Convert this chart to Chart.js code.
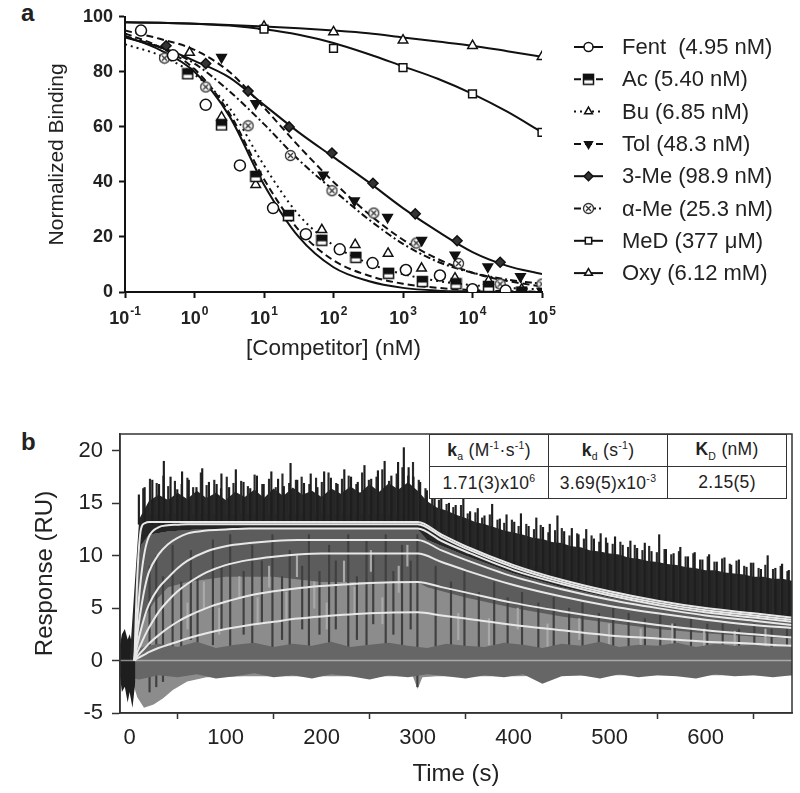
<!DOCTYPE html>
<html>
<head>
<meta charset="utf-8">
<script src="https://cdn.jsdelivr.net/npm/chart.js@4.4.0/dist/chart.umd.min.js"></script>
<style>
  body { margin: 0; background: #fff; width: 800px; height: 793px; position: relative; overflow: hidden;
         font-family: "Liberation Sans", Arial, sans-serif; color: #222; }
  #wrapA { position: absolute; left: 0; top: 0; width: 800px; height: 380px; }
  #wrapB { position: absolute; left: 0; top: 380px; width: 800px; height: 413px; }
  .panel { position: absolute; font-weight: bold; font-size: 24px; line-height: 24px; }
  #kin { position: absolute; left: 429px; top: 434px; border-collapse: collapse; background: #fff; z-index: 2; }
  #kin td { border: 1.5px solid #333; width: 118px; height: 31px; padding: 0; text-align: center;
            font-size: 17.5px; color: #222; letter-spacing: 0.3px; white-space: nowrap; }
  #kin sub, #kin sup { font-size: 10.5px; }
</style>
</head>
<body>
<div class="panel" style="left:21px;top:1px">a</div>
<div class="panel" style="left:21px;top:430px">b</div>
<div id="wrapA"><canvas id="chartA" width="800" height="380"></canvas></div>
<div id="wrapB"><canvas id="chartB" width="800" height="413"></canvas></div>
<table id="kin">
  <tr><td><b>k</b><sub>a</sub> (M<sup>-1</sup>·s<sup>-1</sup>)</td><td><b>k</b><sub>d</sub> (s<sup>-1</sup>)</td><td><b>K</b><sub>D</sub> (nM)</td></tr>
  <tr><td>1.71(3)x10<sup>6</sup></td><td>3.69(5)x10<sup>-3</sup></td><td>2.15(5)</td></tr>
</table>
<script>
const FONT = '"Liberation Sans", Arial, sans-serif';
Chart.defaults.font.family = FONT;
Chart.defaults.color = '#222';

// ---------- panel a : competition binding ----------
const legendLabels = ['Fent  (4.95 nM)', 'Ac (5.40 nM)', 'Bu (6.85 nM)', 'Tol (48.3 nM)',
                      '3-Me (98.9 nM)', 'α-Me (25.3 nM)', 'MeD (377 μM)', 'Oxy (6.12 mM)'];
const aXTicks = [0.1, 1, 10, 100, 1000, 10000, 100000];
const aXExp = ['-1', '0', '1', '2', '3', '4', '5'];
const aYTicks = [0, 20, 40, 60, 80, 100];

// fitted curves, read every half decade from 10^-1 to 10^5
const curveExp = [-1, -0.5, 0, 0.5, 1, 1.5, 2, 2.5, 3, 3.5, 4, 4.5, 5];
const fentCurve = [93, 88, 80, 64, 39, 20, 9, 4, 1.5, 0.5, 0.2, 0, 0];
const acCurve   = [94, 89, 81, 65, 41, 22.5, 11.5, 6, 3, 1.5, 0.7, 0.3, 0.1];
const buCurve   = [90, 86, 79, 67, 46, 28, 17, 10.5, 6.5, 4, 2.5, 1.5, 1];
const tolCurve  = [95, 92, 88, 80, 67, 53, 40, 28.5, 19, 12, 7, 4, 2];
const me3Curve  = [92.5, 89, 84, 78, 68, 58, 49, 40, 30.5, 22, 14.5, 9.5, 6.5];
const aMeCurve  = [93, 89, 83, 73, 61, 48, 37, 26.5, 17.5, 11, 7, 4.5, 3];
const meDCurve  = [98, 97.8, 97.5, 96.8, 95.5, 93.5, 90.5, 86.5, 82, 77.5, 72, 65.5, 58];
const oxyCurve  = [98, 97.8, 97.5, 97, 96.5, 95.8, 95, 94, 92.5, 91, 89.5, 87.5, 85.5];

// measured points
const fentX = [0.17, 0.49, 1.45, 4.5, 13.5, 40, 123, 365, 1100, 3400, 10000, 30000];
const fentY = [95, 86, 68, 46, 30.5, 21, 15.5, 10.5, 8, 6, 1, 0.5];
const acX = [0.8, 2.45, 7.6, 22.5, 68, 210, 620, 1900, 5800, 17000, 51000];
const acY = [79.3, 60.7, 42, 27.8, 18.8, 12.6, 6.8, 3.8, 3, 2, 0];
const buX = [0.85, 2.45, 7.6, 22.5, 68, 205, 610, 1850, 5600, 17000, 51000];
const buY = [87, 63.5, 39, 27, 22.6, 17.2, 14, 8.6, 5, 4, 1];
const tolX = [2.45, 7.6, 71, 200, 600, 1860, 5600, 16600, 49000, 100000];
const tolY = [85.3, 68.5, 42.5, 33.2, 27.2, 18.8, 13.4, 9.2, 5.6, 0.3];
const me3X = [0.39, 1.45, 5.9, 23, 95, 370, 1500, 6000, 25000];
const me3Y = [89.5, 83, 73, 60, 50.5, 39.5, 28.4, 18.6, 10.8];
const aMeX = [0.37, 1.45, 5.9, 24, 95, 380, 1550, 6300, 25000, 100000];
const aMeY = [85, 74.5, 60.4, 49.6, 36.8, 28.7, 17.8, 10.4, 2.9, 2.9];
const meDX = [10, 100, 1000, 10000, 100000];
const meDY = [95.5, 88.5, 81.5, 72, 58];
const oxyX = [10, 100, 1000, 10000, 100000];
const oxyY = [96.5, 94.5, 91.5, 89.5, 85.5];

// ---------- panel b : SPR sensorgrams ----------
const bXTicks = [0, 100, 200, 300, 400, 500, 600];
const bYTicks = [-5, 0, 5, 10, 15, 20];

// fitted 1:1 curves (white)
const fitT = [5, 8, 12, 16, 20, 30, 40, 50, 60, 80, 100, 125, 150, 175, 200, 250, 300, 325, 350, 400, 450, 500, 550, 600, 650, 690];
const fit1 = [0, 8, 12.6, 13.1, 13.2, 13.2, 13.2, 13.2, 13.2, 13.2, 13.2, 13.2, 13.2, 13.2, 13.2, 13.2, 13.2, 12.0, 10.9, 9.1, 7.7, 6.6, 5.7, 5.0, 4.5, 4.1];
const fit2 = [0, 4, 8, 10.5, 11.8, 12.7, 12.9, 12.95, 13, 13, 13, 13, 13, 13, 13, 13, 13, 11.8, 10.7, 8.9, 7.5, 6.4, 5.5, 4.8, 4.3, 3.9];
const fit3 = [0, 2.5, 5, 7, 8.4, 10.1, 11.1, 11.7, 12.1, 12.4, 12.5, 12.6, 12.6, 12.6, 12.6, 12.6, 12.6, 11.4, 10.4, 8.6, 7.3, 6.2, 5.3, 4.6, 4.1, 3.7];
const fit4 = [0, 1.5, 3, 4.3, 5.3, 6.9, 7.9, 8.8, 9.5, 10.4, 10.9, 11.2, 11.4, 11.5, 11.5, 11.5, 11.5, 10.5, 9.6, 8.0, 6.8, 5.8, 5.0, 4.3, 3.8, 3.4];
const fit5 = [0, 0.8, 1.6, 2.4, 3.1, 4.6, 5.7, 6.6, 7.3, 8.4, 9.1, 9.6, 9.9, 10.1, 10.2, 10.2, 10.2, 9.4, 8.6, 7.2, 6.1, 5.2, 4.5, 3.9, 3.4, 3.1];
const fit6 = [0, 0.4, 0.8, 1.2, 1.6, 2.4, 3.1, 3.7, 4.2, 5.0, 5.6, 6.2, 6.6, 6.9, 7.1, 7.4, 7.5, 7.0, 6.5, 5.5, 4.7, 4.0, 3.4, 2.9, 2.5, 2.2];
const fit7 = [0, 0.2, 0.4, 0.6, 0.8, 1.2, 1.5, 1.8, 2.1, 2.6, 3.0, 3.4, 3.7, 4.0, 4.2, 4.5, 4.6, 4.3, 4.0, 3.4, 2.9, 2.4, 2.1, 1.8, 1.6, 1.4];

// upper edge of the dense black noise, every 10 s from 0 to 690 s
const darkTop = [0, 13.5, 15.2, 15.8, 15.3, 16, 15.4, 16.2, 15.5, 16, 15.3, 16.1, 15.6, 16.3, 15.5, 16.4, 15.7, 16.5,
  15.8, 16.2, 15.6, 16.4, 15.9, 16.6, 16, 16.8, 16.1, 16.9, 16.3, 17, 16.2, 15.2, 14.6, 14.3, 13.9, 13.6, 13.2, 13,
  12.7, 12.4, 12.2, 12, 11.7, 11.6, 11.3, 11.2, 10.9, 10.8, 10.5, 10.4, 10.2, 10.1, 9.8, 9.7, 9.5, 9.4, 9.2, 9.1,
  8.9, 8.8, 8.6, 8.6, 8.4, 8.3, 8.2, 8, 8, 7.8, 7.8, 7.6];
// lower edge of the black noise
const darkBotT = [0, 5, 8, 12, 20, 40, 70, 100, 150, 200, 250, 300, 310, 350, 400, 450, 500, 550, 600, 650, 690];
const darkBot  = [0, 0, 8, 11, 12, 12.3, 12.5, 12.5, 12.5, 12.5, 12.5, 12.5, 11.5, 10, 8.3, 7, 6, 5.2, 4.5, 4, 3.6];
// darker grey traces below the black band
const midBotT = [8, 15, 25, 40, 60, 100, 150, 200, 250, 300, 310, 350, 400, 450, 500, 550, 600, 650, 690];
const midBot  = [2, 4, 5.5, 7, 7.5, 8, 8, 7.5, 7.5, 7.5, 7, 6, 5, 4.2, 3.6, 3, 2.6, 2.3, 2.1];
// lowest reach of the grey traces
const grayBotT = [-10, 3, 8, 15, 25, 35, 45, 60, 80, 120, 200, 295, 300, 305, 320, 400, 500, 600, 690];
const grayBot  = [-1.5, -2, -3.5, -4.5, -4.2, -3.6, -2.8, -2, -1.6, -1.5, -1.5, -1.5, -2.7, -1.6, -1.5, -1.5, -1.4, -1.4, -1.4];
// buffer (zero) traces
const baseT = [-10, 10, 30, 50, 70, 90, 110, 130, 150, 170, 190, 210, 230, 250, 270, 290, 310, 330, 350, 370, 390,
  410, 430, 450, 470, 490, 510, 530, 550, 570, 590, 610, 630, 650, 670, 690];
const baseTop = [1.5, 1.2, 1.6, 1.3, 1.8, 1.2, 1.5, 1.7, 1.3, 1.6, 1.4, 1.8, 1.3, 1.5, 1.7, 1.4, 1.2, 1.6, 1.4, 1.3,
  1.7, 1.5, 1.2, 1.6, 1.4, 1.8, 1.3, 1.5, 1.4, 1.7, 1.3, 1.6, 1.4, 1.5, 1.3, 1.4];
const baseBot = [-1.5, -1.8, -1.4, -1.6, -1.3, -1.7, -1.5, -1.2, -1.6, -1.4, -1.7, -1.3, -1.5, -1.8, -1.4, -1.6, -1.3,
  -1.5, -1.7, -1.4, -1.6, -1.3, -2.2, -1.5, -1.4, -1.7, -1.3, -1.6, -1.4, -1.5, -1.7, -1.3, -1.5, -1.4, -1.6, -1.4];
// noise before injection
const preT = [-10, -8, -5, -2, 0, 3, 6];
const preTop = [1.5, 2.5, 3, 2, 2.5, 1.5, 1];
const preBot = [-1.5, -3, -2.5, -4, -3, -4.5, -2];
// tallest noise spikes
const spikeT = [12, 18, 26, 33, 38, 45, 52, 57, 64, 72, 78, 85, 93, 98, 106, 113, 121, 128, 135, 142, 150, 157, 163,
  170, 177, 184, 191, 198, 205, 212, 219, 226, 233, 240, 247, 254, 261, 268, 275, 282, 288, 293, 298, 305, 312, 320,
  327, 335, 342, 350, 357, 365, 372, 380, 388, 395, 403, 410, 418, 426, 433, 440, 448, 455, 463, 470, 478, 486, 493,
  500, 508, 516, 524, 531, 539, 546, 554, 561, 569, 576, 584, 591, 599, 606, 614, 622, 629, 637, 645, 652, 660, 667,
  675, 682, 689];
const spikeHi = [15.8, 16.5, 17.2, 16.8, 19, 17.5, 16.3, 18, 17.2, 16.5, 18.3, 17, 16.8, 17.8, 16.5, 18.2, 17, 16.4,
  17.6, 16.8, 18, 17.3, 16.6, 18.8, 17.2, 16.9, 17.8, 16.5, 18, 17.4, 16.8, 18.2, 17.5, 17, 18.6, 17.3, 18.1, 19,
  17.6, 18.9, 20.3, 18.4, 17.5, 17, 16.2, 15.5, 16, 15, 14.8, 15.6, 14.2, 14.5, 13.8, 14.9, 13.5, 13.9, 13.2, 14,
  12.8, 13.6, 12.7, 13, 13.8, 12.3, 12.6, 12, 12.5, 11.6, 12.1, 11.2, 11.8, 11, 11.4, 10.7, 11.2, 10.4, 12, 10.6,
  10.2, 10.8, 9.9, 10.3, 9.6, 10.1, 9.4, 9.8, 9.1, 9.6, 8.9, 9.3, 8.7, 10, 8.8, 9.2, 8.6];
const spikeLo = [13, 13, 13, 13, 13, 13, 13, 13, 13, 13, 13, 13, 13, 13, 13, 13, 13, 13, 13, 13, 13, 13, 13, 13, 13,
  13, 13, 13, 13, 13, 13, 13, 13, 13, 13, 13, 13, 13, 13, 13, 13, 13, 13, 13, 12, 12, 12, 11, 11, 11, 10, 10, 10, 9.5,
  9.5, 9, 9, 9, 8.5, 8.5, 8, 8, 8, 7.5, 7.5, 7.5, 7, 7, 7, 6.5, 6.5, 6.5, 6, 6, 6, 6, 5.5, 5.5, 5.5, 5.5, 5, 5, 5, 5,
  5, 4.5, 4.5, 4.5, 4.5, 4.5, 4.5, 4, 4, 4, 4];
// smaller spikes between the tall ones
const spike2T = [15, 22, 29, 36, 41, 48, 55, 61, 67, 75, 81, 89, 96, 102, 109, 117, 124, 131, 139, 146, 153, 160, 167,
  174, 180, 188, 195, 201, 208, 216, 222, 229, 237, 243, 250, 258, 264, 271, 279, 285, 291, 296,
  302, 309, 316, 323, 331, 338, 346, 353, 361, 368, 376, 384, 391, 399, 406, 414, 422, 429, 437, 444, 451, 459, 467,
  474, 482, 490, 497, 504, 512, 520, 527, 535, 542, 550, 558, 565, 573, 580, 588, 595, 603, 610, 618, 626, 633, 641,
  648, 656, 663, 671, 679, 686];
const spike2Hi = [16.4, 17.3, 16.9, 17.6, 16.6, 17.1, 16.8, 17.4, 16.5, 17.9, 16.7, 17.2, 16.4, 17.5, 16.9, 17.1, 16.6,
  17.7, 16.8, 17.3, 16.5, 17.8, 16.9, 17.2, 17.5, 16.8, 17.4, 17, 17.9, 16.9, 17.3, 17.6, 16.8, 17.9, 17.2, 17.5,
  18.2, 17.1, 17.8, 18.4, 17.6, 18.9,
  17.2, 16.4, 15.6, 15.3, 14.9, 14.6, 14.8, 14.0, 14.1, 13.6, 13.9, 13.4, 13.1, 13.4, 12.8, 13, 12.5, 12.9, 12.2,
  12.4, 12.6, 11.9, 12.1, 11.6, 11.9, 11.3, 11.7, 11.1, 11.3, 10.8, 11, 10.5, 10.9, 10.3, 10.6, 10.1, 10.4, 9.9,
  10.2, 9.6, 9.9, 9.4, 9.7, 9.2, 9.5, 9, 9.3, 8.8, 9.1, 8.7, 9, 8.5];
const spike2Lo = [14, 14, 14, 14, 14, 14, 14, 14, 14, 14, 14, 14, 14, 14, 14, 14, 14, 14, 14, 14, 14, 14, 14, 14, 14,
  14, 14, 14, 14, 14, 14, 14, 14, 14, 14, 14, 14, 14, 14, 14, 14, 14,
  13, 13, 12.5, 12, 12, 11.5, 11.5, 11, 11, 10.5, 10.5, 10, 10, 9.5, 9.5, 9, 9, 9, 8.5, 8.5, 8, 8, 8, 7.5, 7.5, 7.5,
  7, 7, 7, 6.5, 6.5, 6.5, 6, 6, 6, 6, 5.5, 5.5, 5.5, 5.5, 5, 5, 5, 5, 5, 5, 4.5, 4.5, 4.5, 4.5, 4.5, 4.5];
// dark grey streaks inside the lower traces
const streakT = [20, 27, 34, 44, 53, 63, 70, 86, 95, 104, 118, 127, 137, 148, 158, 166, 179, 186, 197, 207, 214, 227,
  236, 246, 253, 266, 274, 283, 292, 299, 318, 334, 348, 363, 379, 393, 408, 425, 441, 457, 471, 488, 503, 519, 536,
  552, 567, 584, 601, 617, 634, 650, 668, 684];
const streakLo = [-3, -2.5, -2, 0.5, 1, 2, 0, 1.5, 3, 0.5, 2.5, 1, 3.5, 0, 2, 1.5, 3, 0.5, 2.5, 1, 3, 0.5, 2, 1.5,
  3.5, 0, 2.5, 1, 3, -2.5, 0.5, 1.5, 0, 1, 0.5, 0, 1.5, 0.5, 0, 1, 0.5, 0, 1, 0.5, 0, 0.5, 0, 0.5, 0, 0.5, 0, 0.5, 0, 0.5];
const streakHi = [9, 10, 8, 11, 7.5, 10.5, 8, 11.5, 9, 12, 8.5, 11, 9.5, 12, 8, 10.5, 9, 12, 8.5, 11, 9.5, 12, 8,
  11.5, 10, 12, 8.5, 11, 9.5, 12, 9, 7.5, 8.5, 6.5, 7.5, 6, 6.5, 5.5, 6, 5, 5.5, 4.5, 5, 4.5, 4, 4.5, 3.5, 4, 3.5,
  3.5, 3, 3.5, 3, 3];
// light gaps between traces
const lightT = [58, 75, 91, 112, 131, 143, 161, 172, 190, 203, 221, 232, 249, 261, 278, 287, 340, 372, 402, 433, 466,
  497, 530, 563, 596, 628, 660];
const lightLo = [3, 5, 2.5, 6, 3.5, 7, 4, 8, 5, 3, 7.5, 4.5, 8.5, 3.5, 6.5, 9, 2, 1.5, 3, 1, 2, 1.5, 0.8, 1.5, 1, 0.8, 1.2];
const lightHi = [5.5, 7.5, 5, 8, 6, 9, 6.5, 10, 7.5, 5.5, 9.5, 7, 10.5, 6, 9, 11, 4.5, 4, 5, 3.5, 4, 3.5, 3, 3.5, 3, 2.8, 3];
const zeroT = [-10, 690];
const zeroY = [0, 0];

const xy = (xs, ys) => xs.map((v, i) => ({ x: v, y: ys[i] }));
const bars = (ts, lo, hi) => ts.map((t, i) => ({ x: t, y: [lo[i], hi[i]] }));

function makeMarker(draw) {
  const c = document.createElement('canvas');
  c.width = 13; c.height = 13;
  draw(c.getContext('2d'));
  return c;
}
const acMark = makeMarker(g => {
  g.fillStyle = '#fff'; g.fillRect(1.5, 1.5, 10, 10);
  g.fillStyle = '#111'; g.fillRect(1.5, 1.5, 10, 6);
  g.strokeStyle = '#111'; g.lineWidth = 1.5; g.strokeRect(1.5, 1.5, 10, 10);
});
const aMeMark = makeMarker(g => {
  g.beginPath(); g.arc(6.5, 6.5, 5, 0, Math.PI * 2);
  g.fillStyle = '#fff'; g.fill();
  g.strokeStyle = '#333'; g.lineWidth = 1.3; g.stroke();
  g.beginPath(); g.moveTo(4, 4); g.lineTo(9, 9); g.moveTo(9, 4); g.lineTo(4, 9); g.stroke();
});

const curves = [fentCurve, acCurve, buCurve, tolCurve, me3Curve, aMeCurve, meDCurve, oxyCurve];
const ptsX = [fentX, acX, buX, tolX, me3X, aMeX, meDX, oxyX];
const ptsY = [fentY, acY, buY, tolY, me3Y, aMeY, meDY, oxyY];
const dashes = [[], [7, 4], [2, 4], [7, 4], [], [7, 3, 2, 3], [], []];
const marks = [
  { style: 'circle', bg: '#fff', r: 5.5, rot: 0 },
  { style: acMark, bg: '#fff', r: 5.5, rot: 0 },
  { style: 'triangle', bg: '#fff', r: 5.5, rot: 0 },
  { style: 'triangle', bg: '#111', r: 5.5, rot: 180 },
  { style: 'rectRot', bg: '#333', r: 5, rot: 0 },
  { style: aMeMark, bg: '#fff', r: 5.5, rot: 0 },
  { style: 'rect', bg: '#fff', r: 5.5, rot: 0 },
  { style: 'triangle', bg: '#fff', r: 5.5, rot: 0 }
];

const curveX = curveExp.map(e => Math.pow(10, e));
const dsA = [];
curves.forEach((c, i) => {
  dsA.push({ type: 'line', data: xy(curveX, c), borderColor: '#111', borderWidth: 2, borderDash: dashes[i],
             pointRadius: 0, cubicInterpolationMode: 'monotone', fill: false, order: 2 });
});
ptsX.forEach((px, i) => {
  dsA.push({ type: 'scatter', data: xy(px, ptsY[i]), showLine: false, pointStyle: marks[i].style,
             pointRadius: marks[i].r, pointRotation: marks[i].rot, pointBackgroundColor: marks[i].bg,
             pointBorderColor: '#111', pointBorderWidth: 1.5, order: 1 });
});

const panelAPlugin = {
  id: 'panelA',
  afterDraw(chart) {
    const ctx = chart.ctx, xs = chart.scales.x;
    ctx.save();
    ctx.fillStyle = '#222';
    ctx.textBaseline = 'alphabetic';
    ctx.textAlign = 'left';
    aXTicks.forEach((v, i) => {
      const px = xs.getPixelForValue(v);
      ctx.font = 'bold 18px ' + FONT;
      const w1 = ctx.measureText('10').width;
      ctx.font = 'bold 12px ' + FONT;
      const w2 = ctx.measureText(aXExp[i]).width;
      const x0 = px - (w1 + w2 + 1) / 2;
      ctx.font = 'bold 18px ' + FONT;
      ctx.fillText('10', x0, 324);
      ctx.font = 'bold 12px ' + FONT;
      ctx.fillText(aXExp[i], x0 + w1 + 1, 315);
    });
    // legend
    legendLabels.forEach((lab, i) => {
      const y = 47 + i * 32.3;
      ctx.strokeStyle = '#111';
      ctx.lineWidth = 2;
      ctx.setLineDash(dashes[i]);
      ctx.beginPath(); ctx.moveTo(574, y); ctx.lineTo(603, y); ctx.stroke();
      ctx.setLineDash([]);
      ctx.fillStyle = marks[i].bg;
      ctx.lineWidth = 1.5;
      Chart.helpers.drawPoint(ctx, { pointStyle: marks[i].style, radius: 4.5, rotation: marks[i].rot, borderWidth: 1.5 }, 588.5, y);
      ctx.fillStyle = '#222';
      ctx.font = '22px ' + FONT;
      ctx.textBaseline = 'middle';
      ctx.fillText(lab, 622, y + 1);
      ctx.textBaseline = 'alphabetic';
    });
    ctx.restore();
  }
};

new Chart(document.getElementById('chartA'), {
  type: 'scatter',
  data: { datasets: dsA },
  options: {
    responsive: false, animation: false, devicePixelRatio: 1,
    layout: { padding: { left: 0, right: 258, top: 15, bottom: 0 } },
    plugins: { legend: { display: false }, tooltip: { enabled: false } },
    scales: {
      x: {
        type: 'logarithmic', min: 0.1, max: 100000,
        afterBuildTicks: s => { s.ticks = aXTicks.map(v => ({ value: v })); },
        afterFit: s => { s.height = 88; },
        ticks: { callback: () => '', padding: 0 },
        grid: { drawOnChartArea: false, tickLength: 6, tickWidth: 2, tickColor: '#111' },
        border: { color: '#111', width: 2 },
        title: { display: true, text: '[Competitor] (nM)', font: { size: 22.5 }, color: '#222', padding: { top: 0, bottom: 18 } }
      },
      y: {
        min: 0, max: 100,
        afterBuildTicks: s => { s.ticks = aYTicks.map(v => ({ value: v })); },
        afterFit: s => { s.width = 125; },
        ticks: { font: { size: 18, weight: 'bold' }, color: '#222', padding: 6 },
        grid: { drawOnChartArea: false, tickLength: 6, tickWidth: 2, tickColor: '#111' },
        border: { color: '#111', width: 2 },
        title: { display: true, text: 'Normalized Binding', font: { size: 21 }, color: '#222', padding: { top: 45, bottom: 0 } }
      }
    }
  },
  plugins: [panelAPlugin]
});

// ---------- panel b chart ----------
const darkT = darkTop.map((_, i) => i * 10);
const hidden = { type: 'line', borderColor: 'transparent', borderWidth: 0, pointRadius: 0, tension: 0 };
const fits = [fit1, fit2, fit3, fit4, fit5, fit6, fit7];
const dsB = [
  Object.assign({}, hidden, { data: xy(grayBotT, grayBot), order: 10 }),
  Object.assign({}, hidden, { data: xy(darkBotT, darkBot), fill: '-1', backgroundColor: '#8c8c8c', order: 10 }),
  Object.assign({}, hidden, { data: xy(midBotT, midBot), order: 9 }),
  Object.assign({}, hidden, { data: xy(darkBotT, darkBot), fill: '-1', backgroundColor: '#5c5c5c', order: 9 }),
  { type: 'bar', data: bars(lightT, lightLo, lightHi), backgroundColor: '#a9a9a9', barThickness: 1.5, order: 8.6 },
  { type: 'bar', data: bars(streakT, streakLo, streakHi), backgroundColor: '#404040', barThickness: 1.5, order: 8.5 },
  Object.assign({}, hidden, { data: xy(baseT, baseBot), order: 8 }),
  Object.assign({}, hidden, { data: xy(baseT, baseTop), fill: '-1', backgroundColor: '#666', order: 8 }),
  Object.assign({}, hidden, { data: xy(preT, preBot), order: 7 }),
  Object.assign({}, hidden, { data: xy(preT, preTop), fill: '-1', backgroundColor: '#1e1e1e', order: 7 }),
  Object.assign({}, hidden, { data: xy(darkBotT, darkBot), order: 6 }),
  Object.assign({}, hidden, { data: xy(darkT, darkTop), fill: '-1', backgroundColor: '#262626', order: 6 }),
  { type: 'bar', data: bars(spikeT, spikeLo, spikeHi), backgroundColor: '#1e1e1e', barThickness: 1.5, order: 5 },
  { type: 'bar', data: bars(spike2T, spike2Lo, spike2Hi), backgroundColor: '#2a2a2a', barThickness: 1.5, order: 5 },
  { type: 'line', data: xy(zeroT, zeroY), borderColor: 'rgba(225,225,225,0.55)', borderWidth: 1.5, pointRadius: 0, order: 4 }
];
fits.forEach(f => {
  dsB.push({ type: 'line', data: xy(fitT, f), borderColor: '#e8e8e8', borderWidth: 2, pointRadius: 0,
             cubicInterpolationMode: 'monotone', fill: false, order: 1 });
});

const boxPlugin = {
  id: 'box',
  afterDraw(chart) {
    const a = chart.chartArea, ctx = chart.ctx;
    ctx.save();
    ctx.strokeStyle = '#333';
    ctx.lineWidth = 1.5;
    ctx.strokeRect(a.left, a.top, a.right - a.left, a.bottom - a.top);
    ctx.restore();
  }
};

new Chart(document.getElementById('chartB'), {
  type: 'scatter',
  data: { datasets: dsB },
  options: {
    responsive: false, animation: false, devicePixelRatio: 1,
    layout: { padding: { left: 0, right: 8, top: 54, bottom: 0 } },
    plugins: { legend: { display: false }, tooltip: { enabled: false } },
    scales: {
      x: {
        type: 'linear', min: -10, max: 690, offset: false,
        afterBuildTicks: s => { s.ticks = bXTicks.map(v => ({ value: v })); },
        afterFit: s => { s.height = 80; },
        ticks: { font: { size: 22 }, color: '#222', padding: 6 },
        grid: { drawOnChartArea: false, tickLength: 6, tickWidth: 1.5, tickColor: '#333' },
        border: { color: '#333', width: 1.5 },
        title: { display: true, text: 'Time (s)', font: { size: 24 }, color: '#222', padding: { top: 0, bottom: 4 } }
      },
      y: {
        min: -5, max: 21.6,
        afterBuildTicks: s => { s.ticks = bYTicks.map(v => ({ value: v })); },
        afterFit: s => { s.width = 120; },
        ticks: { font: { size: 22 }, color: '#222', padding: 9 },
        grid: { drawOnChartArea: false, tickLength: 8, tickWidth: 1.5, tickColor: '#333' },
        border: { color: '#333', width: 1.5 },
        title: { display: true, text: 'Response (RU)', font: { size: 24 }, color: '#222', padding: { top: 31, bottom: 0 } }
      }
    }
  },
  plugins: [boxPlugin]
});
</script>
</body>
</html>
